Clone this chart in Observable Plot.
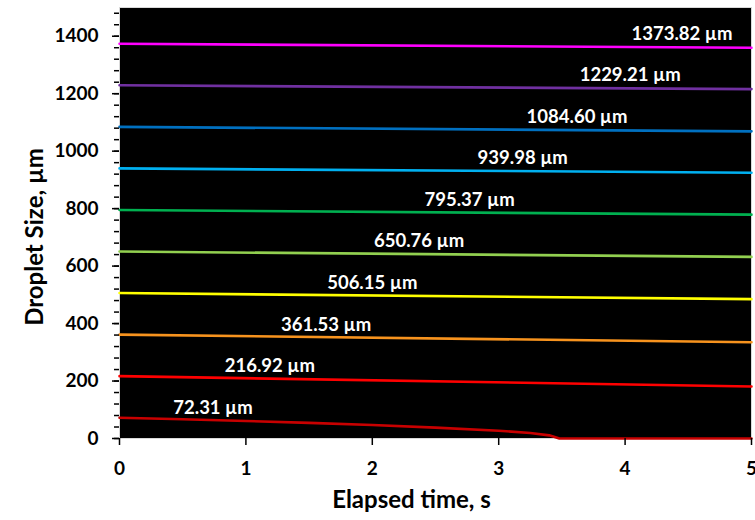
<!DOCTYPE html>
<html>
<head>
<meta charset="utf-8">
<script src="https://cdn.jsdelivr.net/npm/d3@7"></script>
<script src="https://cdn.jsdelivr.net/npm/@observablehq/plot@0.6"></script>
<style>
  html, body { margin: 0; padding: 0; background: #ffffff; }
  #chart svg { display: block; }
</style>
</head>
<body>
<div id="chart"></div>
<script>
// ---- data ----
const initialSizes = [72.31, 216.92, 361.53, 506.15, 650.76, 795.37, 939.98, 1084.60, 1229.21, 1373.82];
const finalSizes   = [0, 181, 335, 485, 632, 779, 925, 1069, 1216, 1360];
const seriesColors = ["#C80000", "#FF0000", "#F7931E", "#FFFF00", "#92D050", "#00B050", "#00B0F0", "#0070C0", "#7030A0", "#FF00FF"];
const labelTimes   = [0.74, 1.19, 1.635, 2.0, 2.37, 2.77, 3.19, 3.62, 4.04, 4.45];
// smallest droplet evaporates completely before 5 s
const smallDropTimes = [0, 0.5, 1, 1.5, 2, 2.5, 3, 3.25, 3.4, 3.48, 5];
const smallDropSizes = [72.31, 67, 61, 54.5, 47, 38, 27, 19, 11, 0, 0];
const xTicks = [0, 1, 2, 3, 4, 5];
const yTicks = [0, 200, 400, 600, 800, 1000, 1200, 1400];
const yMinorTicks = d3.range(0, 1481, 40);
const xTitle = "Elapsed time, s";
const yTitle = "Droplet Size, µm";

// ---- build tables ----
const rows = [];
initialSizes.forEach((d0, i) => {
  if (i === 0) {
    smallDropTimes.forEach((t, j) => rows.push({series: i, t, d: smallDropSizes[j]}));
  } else {
    rows.push({series: i, t: 0, d: d0});
    rows.push({series: i, t: 5, d: finalSizes[i]});
  }
});
const labels = initialSizes.map((d0, i) => ({series: i, t: labelTimes[i], d: d0, text: `${d0.toFixed(2)} µm`}));

const font = "Lato, 'Open Sans', sans-serif";
const fmt = d => String(d);

const chart = Plot.plot({
  width: 755,
  height: 520,
  marginLeft: 119,
  marginRight: 4,
  marginTop: 7,
  marginBottom: 82,
  style: {fontFamily: font, background: "#ffffff", color: "#000"},
  x: {domain: [0, 5], ticks: xTicks},
  y: {domain: [0, 1500], ticks: yTicks},
  marks: [
    Plot.frame({fill: "black", stroke: "#d9d9d9", strokeWidth: 1}),
    Plot.line(rows, {x: "t", y: "d", z: "series", stroke: d => seriesColors[d.series], strokeWidth: 2.6, curve: "linear"}),
    Plot.text(labels, {x: "t", y: "d", text: "text", dy: -10, fill: "white", fontWeight: "bold", fontSize: 18.5, lineAnchor: "middle", textAnchor: "middle"}),
    Plot.axisY({ticks: yMinorTicks, tickSize: 5, text: null, label: null, strokeWidth: 1.5}),
    Plot.axisY({ticks: yTicks, tickSize: 7, tickPadding: 14, tickFormat: fmt, label: null, fontSize: 19, fontWeight: "bold", strokeWidth: 1.5}),
    Plot.axisX({ticks: xTicks, tickSize: 7, tickPadding: 16, tickFormat: fmt, label: null, fontSize: 19, fontWeight: "bold", strokeWidth: 1.5}),
    Plot.text([xTitle], {frameAnchor: "bottom", text: d => d, dx: -24, dy: 62, fontSize: 24, fontWeight: "bold", fill: "#000", lineAnchor: "middle", textAnchor: "middle"}),
    Plot.text([yTitle], {frameAnchor: "left", text: d => d, rotate: -90, dx: -84, dy: 14, fontSize: 24, fontWeight: "bold", fill: "#000", lineAnchor: "middle", textAnchor: "middle"})
  ]
});
document.getElementById("chart").appendChild(chart);
</script>
</body>
</html>
